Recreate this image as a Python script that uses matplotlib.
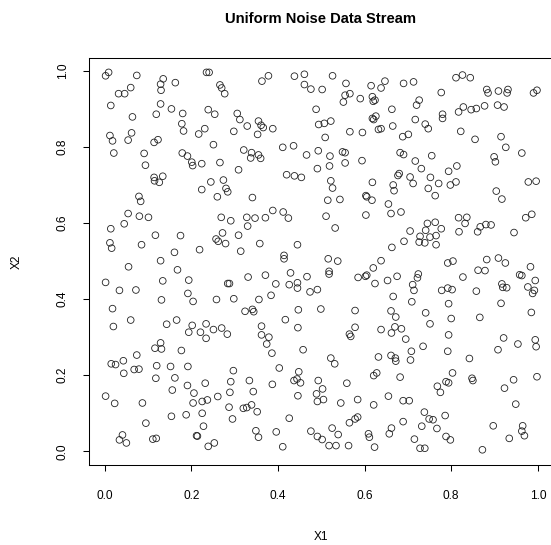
import matplotlib
matplotlib.use("Agg")
import matplotlib.pyplot as plt

plt.rcParams['font.family'] = ['Liberation Sans', 'DejaVu Sans']

title = "Uniform Noise Data Stream"
xlabel = "X1"
ylabel = "X2"
ticks = [0.0, 0.2, 0.4, 0.6, 0.8, 1.0]
tick_labels = ["0.0", "0.2", "0.4", "0.6", "0.8", "1.0"]

x1 = [
    0.002,0.009,0.074,0.135,0.129,0.130,0.163,0.060,0.046,0.032,0.014,0.129,0.154,0.119,0.180,0.064,0.178,0.182,0.217,0.012,0.018,0.054,0.062,0.114,0.123,0.021,0.091,0.094,0.179,0.191,0.201,0.203,0.224,0.134,0.114,0.115,0.126,0.224,
    0.235,0.241,0.363,0.378,0.438,0.461,0.461,0.476,0.266,0.270,0.277,0.239,0.254,0.306,0.312,0.355,0.361,0.366,0.329,0.388,0.353,0.231,0.298,0.488,0.494,0.251,0.321,0.339,0.355,0.337,0.360,0.411,0.436,0.466,0.493,0.266,0.309,0.491,0.420,0.438,0.454,0.245,0.274,0.280,0.284,
    0.526,0.557,0.502,0.615,0.638,0.647,0.690,0.713,0.555,0.566,0.551,0.590,0.618,0.620,0.624,0.663,0.726,0.720,0.618,0.626,0.621,0.717,0.740,0.747,0.507,0.522,0.665,0.566,0.595,0.632,0.638,0.688,0.701,0.509,0.520,0.549,0.555,0.555,0.519,0.594,0.682,0.690,0.755,0.717,0.731,0.680,0.677,0.705,0.712,0.752,0.522,0.526,0.618,0.666,0.668,0.747,
    0.811,0.826,0.844,0.777,0.882,0.885,0.909,0.931,0.929,0.990,0.998,0.780,0.780,0.817,0.828,0.846,0.858,0.877,0.907,0.922,0.822,0.855,0.915,0.926,0.963,0.899,0.902,0.813,0.794,0.771,0.798,0.811,0.978,0.996,0.904,
    0.079,0.083,0.054,0.080,0.101,0.014,0.045,0.117,0.175,0.012,0.016,0.085,0.161,0.219,0.129,0.055,0.168,0.002,0.034,0.072,0.134,0.194,0.192,0.204,0.131,0.018,0.020,0.060,0.143,0.166,0.202,
    0.260,0.341,0.388,0.412,0.424,0.269,0.291,0.328,0.347,0.371,0.330,0.272,0.257,0.262,0.279,0.309,0.358,0.445,0.314,0.414,0.414,0.331,0.371,0.284,0.288,0.429,0.395,0.426,0.445,0.445,0.467,0.474,0.491,0.258,0.298,0.356,0.384,0.324,0.341,0.344,0.447,0.234,0.251,0.270,0.362,0.417,0.446,
    0.515,0.543,0.603,0.605,0.617,0.763,0.655,0.661,0.684,0.511,0.532,0.603,0.705,0.745,0.741,0.728,0.751,0.726,0.739,0.691,0.663,0.516,0.538,0.638,0.620,0.518,0.518,0.585,0.602,0.605,0.675,0.653,0.624,0.724,0.722,0.711,0.714,0.666,0.709,0.499,0.578,0.661,0.672,0.741,0.751,0.578,0.670,0.685,0.638,
    0.917,0.763,0.777,0.765,0.765,0.817,0.836,0.832,0.818,0.861,0.867,0.880,0.892,0.945,0.972,0.986,0.792,0.804,0.882,0.909,0.925,0.862,0.878,0.827,0.983,0.958,0.963,0.994,0.778,0.792,0.802,0.858,0.917,0.919,0.928,0.977,0.992,0.988,0.794,0.915,0.985,0.800,0.866,
    0.194,0.221,0.129,0.116,0.131,0.074,0.177,0.015,0.025,0.043,0.044,0.068,0.079,0.120,0.152,0.192,0.118,0.162,0.191,0.156,0.206,0.002,0.023,0.087,0.204,0.225,0.188,0.154,0.225,0.095,0.041,0.034,0.050,0.111,0.119,0.212,0.214,
    0.283,0.234,0.362,0.379,0.374,0.386,0.458,0.297,0.403,0.448,0.437,0.444,0.452,0.446,0.232,0.291,0.289,0.334,0.343,0.387,0.493,0.489,0.491,0.237,0.261,0.287,0.320,0.328,0.339,0.352,0.295,0.426,0.228,0.349,0.355,0.396,0.476,0.491,0.239,0.253,0.411,
    0.565,0.568,0.662,0.695,0.522,0.531,0.735,0.708,0.706,0.632,0.661,0.671,0.672,0.628,0.621,0.682,0.559,0.503,0.505,0.545,0.584,0.621,0.655,0.689,0.703,0.738,0.749,0.758,0.732,0.689,0.565,0.578,0.584,0.525,0.539,0.502,0.518,0.534,0.563,0.609,0.611,0.623,0.662,0.657,0.715,0.728,0.739,
    0.794,0.921,0.994,0.996,0.954,0.908,0.792,0.842,0.803,0.788,0.794,0.768,0.775,0.848,0.850,0.944,0.923,0.998,0.949,0.786,0.767,0.788,0.798,0.897,0.965,0.963,0.969,0.934,0.872,
]

x2 = [
    0.987,0.996,0.988,0.979,0.965,0.949,0.969,0.956,0.940,0.940,0.909,0.913,0.900,0.886,0.888,0.879,0.861,0.842,0.834,0.830,0.816,0.818,0.837,0.812,0.819,0.784,0.783,0.752,0.784,0.776,0.760,0.751,0.756,0.723,0.720,0.711,0.707,0.688,
    0.996,0.996,0.973,0.987,0.986,0.991,0.964,0.952,0.963,0.955,0.940,0.898,0.886,0.888,0.872,0.868,0.857,0.851,0.855,0.848,0.833,0.848,0.841,0.899,0.859,0.806,0.792,0.785,0.779,0.771,0.770,0.799,0.803,0.779,0.790,0.759,0.740,0.743,0.727,0.724,0.720,0.708,0.713,0.691,0.682,
    0.987,0.967,0.951,0.961,0.955,0.973,0.967,0.971,0.936,0.940,0.918,0.927,0.932,0.920,0.923,0.899,0.923,0.910,0.875,0.881,0.872,0.872,0.860,0.848,0.862,0.868,0.855,0.840,0.838,0.846,0.848,0.827,0.833,0.825,0.776,0.787,0.785,0.758,0.750,0.764,0.785,0.780,0.777,0.763,0.743,0.730,0.725,0.721,0.704,0.720,0.711,0.692,0.707,0.700,0.685,0.691,
    0.982,0.989,0.982,0.943,0.951,0.942,0.947,0.951,0.942,0.942,0.949,0.886,0.875,0.892,0.905,0.898,0.901,0.908,0.910,0.905,0.841,0.820,0.827,0.799,0.784,0.774,0.761,0.750,0.736,0.704,0.700,0.708,0.708,0.710,0.684,
    0.670,0.657,0.625,0.618,0.615,0.585,0.598,0.568,0.567,0.548,0.534,0.543,0.523,0.530,0.501,0.485,0.477,0.444,0.423,0.424,0.448,0.450,0.415,0.394,0.398,0.375,0.328,0.345,0.334,0.345,0.331,
    0.669,0.667,0.633,0.629,0.613,0.615,0.606,0.615,0.613,0.614,0.592,0.574,0.558,0.552,0.546,0.568,0.546,0.543,0.526,0.515,0.506,0.458,0.463,0.441,0.441,0.469,0.440,0.438,0.443,0.429,0.459,0.419,0.425,0.399,0.401,0.399,0.410,0.368,0.373,0.367,0.372,0.335,0.320,0.324,0.329,0.346,0.325,
    0.660,0.662,0.672,0.669,0.660,0.672,0.650,0.625,0.629,0.618,0.587,0.621,0.579,0.599,0.581,0.565,0.563,0.550,0.548,0.552,0.536,0.506,0.500,0.501,0.482,0.473,0.466,0.457,0.460,0.463,0.460,0.449,0.441,0.466,0.456,0.438,0.423,0.407,0.393,0.374,0.370,0.369,0.353,0.364,0.335,0.326,0.327,0.322,0.320,
    0.663,0.602,0.585,0.567,0.543,0.614,0.615,0.599,0.577,0.577,0.590,0.596,0.595,0.575,0.614,0.623,0.495,0.500,0.504,0.508,0.495,0.476,0.475,0.458,0.485,0.464,0.462,0.449,0.423,0.429,0.425,0.421,0.440,0.431,0.430,0.432,0.423,0.415,0.388,0.389,0.365,0.349,0.352,
    0.313,0.313,0.285,0.271,0.269,0.253,0.265,0.230,0.228,0.238,0.205,0.215,0.216,0.225,0.223,0.223,0.192,0.193,0.173,0.161,0.153,0.145,0.126,0.127,0.127,0.131,0.096,0.092,0.100,0.074,0.043,0.030,0.022,0.032,0.034,0.041,0.040,
    0.308,0.297,0.306,0.300,0.282,0.258,0.267,0.212,0.219,0.209,0.186,0.190,0.180,0.146,0.179,0.183,0.155,0.186,0.157,0.176,0.186,0.151,0.131,0.135,0.144,0.116,0.113,0.115,0.122,0.104,0.085,0.087,0.066,0.054,0.037,0.051,0.053,0.039,0.013,0.022,0.012,
    0.308,0.302,0.311,0.295,0.245,0.230,0.276,0.263,0.240,0.248,0.252,0.245,0.237,0.206,0.199,0.195,0.179,0.164,0.136,0.127,0.136,0.122,0.145,0.133,0.133,0.103,0.085,0.083,0.066,0.078,0.075,0.085,0.090,0.061,0.044,0.031,0.015,0.015,0.015,0.046,0.037,0.011,0.061,0.046,0.032,0.008,0.008,
    0.306,0.298,0.293,0.275,0.282,0.267,0.263,0.244,0.206,0.183,0.180,0.171,0.155,0.192,0.186,0.188,0.166,0.196,0.124,0.094,0.060,0.039,0.030,0.067,0.067,0.053,0.041,0.034,0.004,
]

n = min(len(x1), len(x2))

W, H = 551, 545
fig = plt.figure(figsize=(W / 100, H / 100), dpi=100)
left, right, top, bottom = 88.7, 553.0, 58.3, 465.0
ax = fig.add_axes([left / W, 1 - bottom / H, (right - left) / W, (bottom - top) / H])

ax.scatter(x1[:n], x2[:n], s=23, facecolors='none', edgecolors='#222222', linewidths=0.6, marker='o')

ax.set_xlim(-0.037, 1.035)
ax.set_ylim(-0.036, 1.033)
ax.set_xticks(ticks)
ax.set_xticklabels(tick_labels)
ax.set_yticks(ticks)
ax.set_yticklabels(tick_labels, rotation=90, va='center')

for sp in ax.spines.values():
    sp.set_linewidth(0.75)
    sp.set_color('black')

ax.tick_params(axis='both', direction='out', length=4.2, width=0.75, labelsize=8.6, colors='black')
ax.tick_params(axis='x', pad=14)
ax.tick_params(axis='y', pad=10)

ax.set_xlabel(xlabel, fontsize=8.6)
ax.set_ylabel(ylabel, fontsize=8.6)
ax.xaxis.set_label_coords(0.5, -(537 - bottom) / (bottom - top))
ax.xaxis.label.set_va('center')
ax.yaxis.set_label_coords(-(left - 17) / (right - left), 0.5)
ax.yaxis.label.set_va('center')

fig.text((left + right) / 2 / W, 1 - 19 / H, title, ha='center', va='center',
         fontsize=10.6, fontweight='bold')

fig.savefig("out.png", dpi=100)
